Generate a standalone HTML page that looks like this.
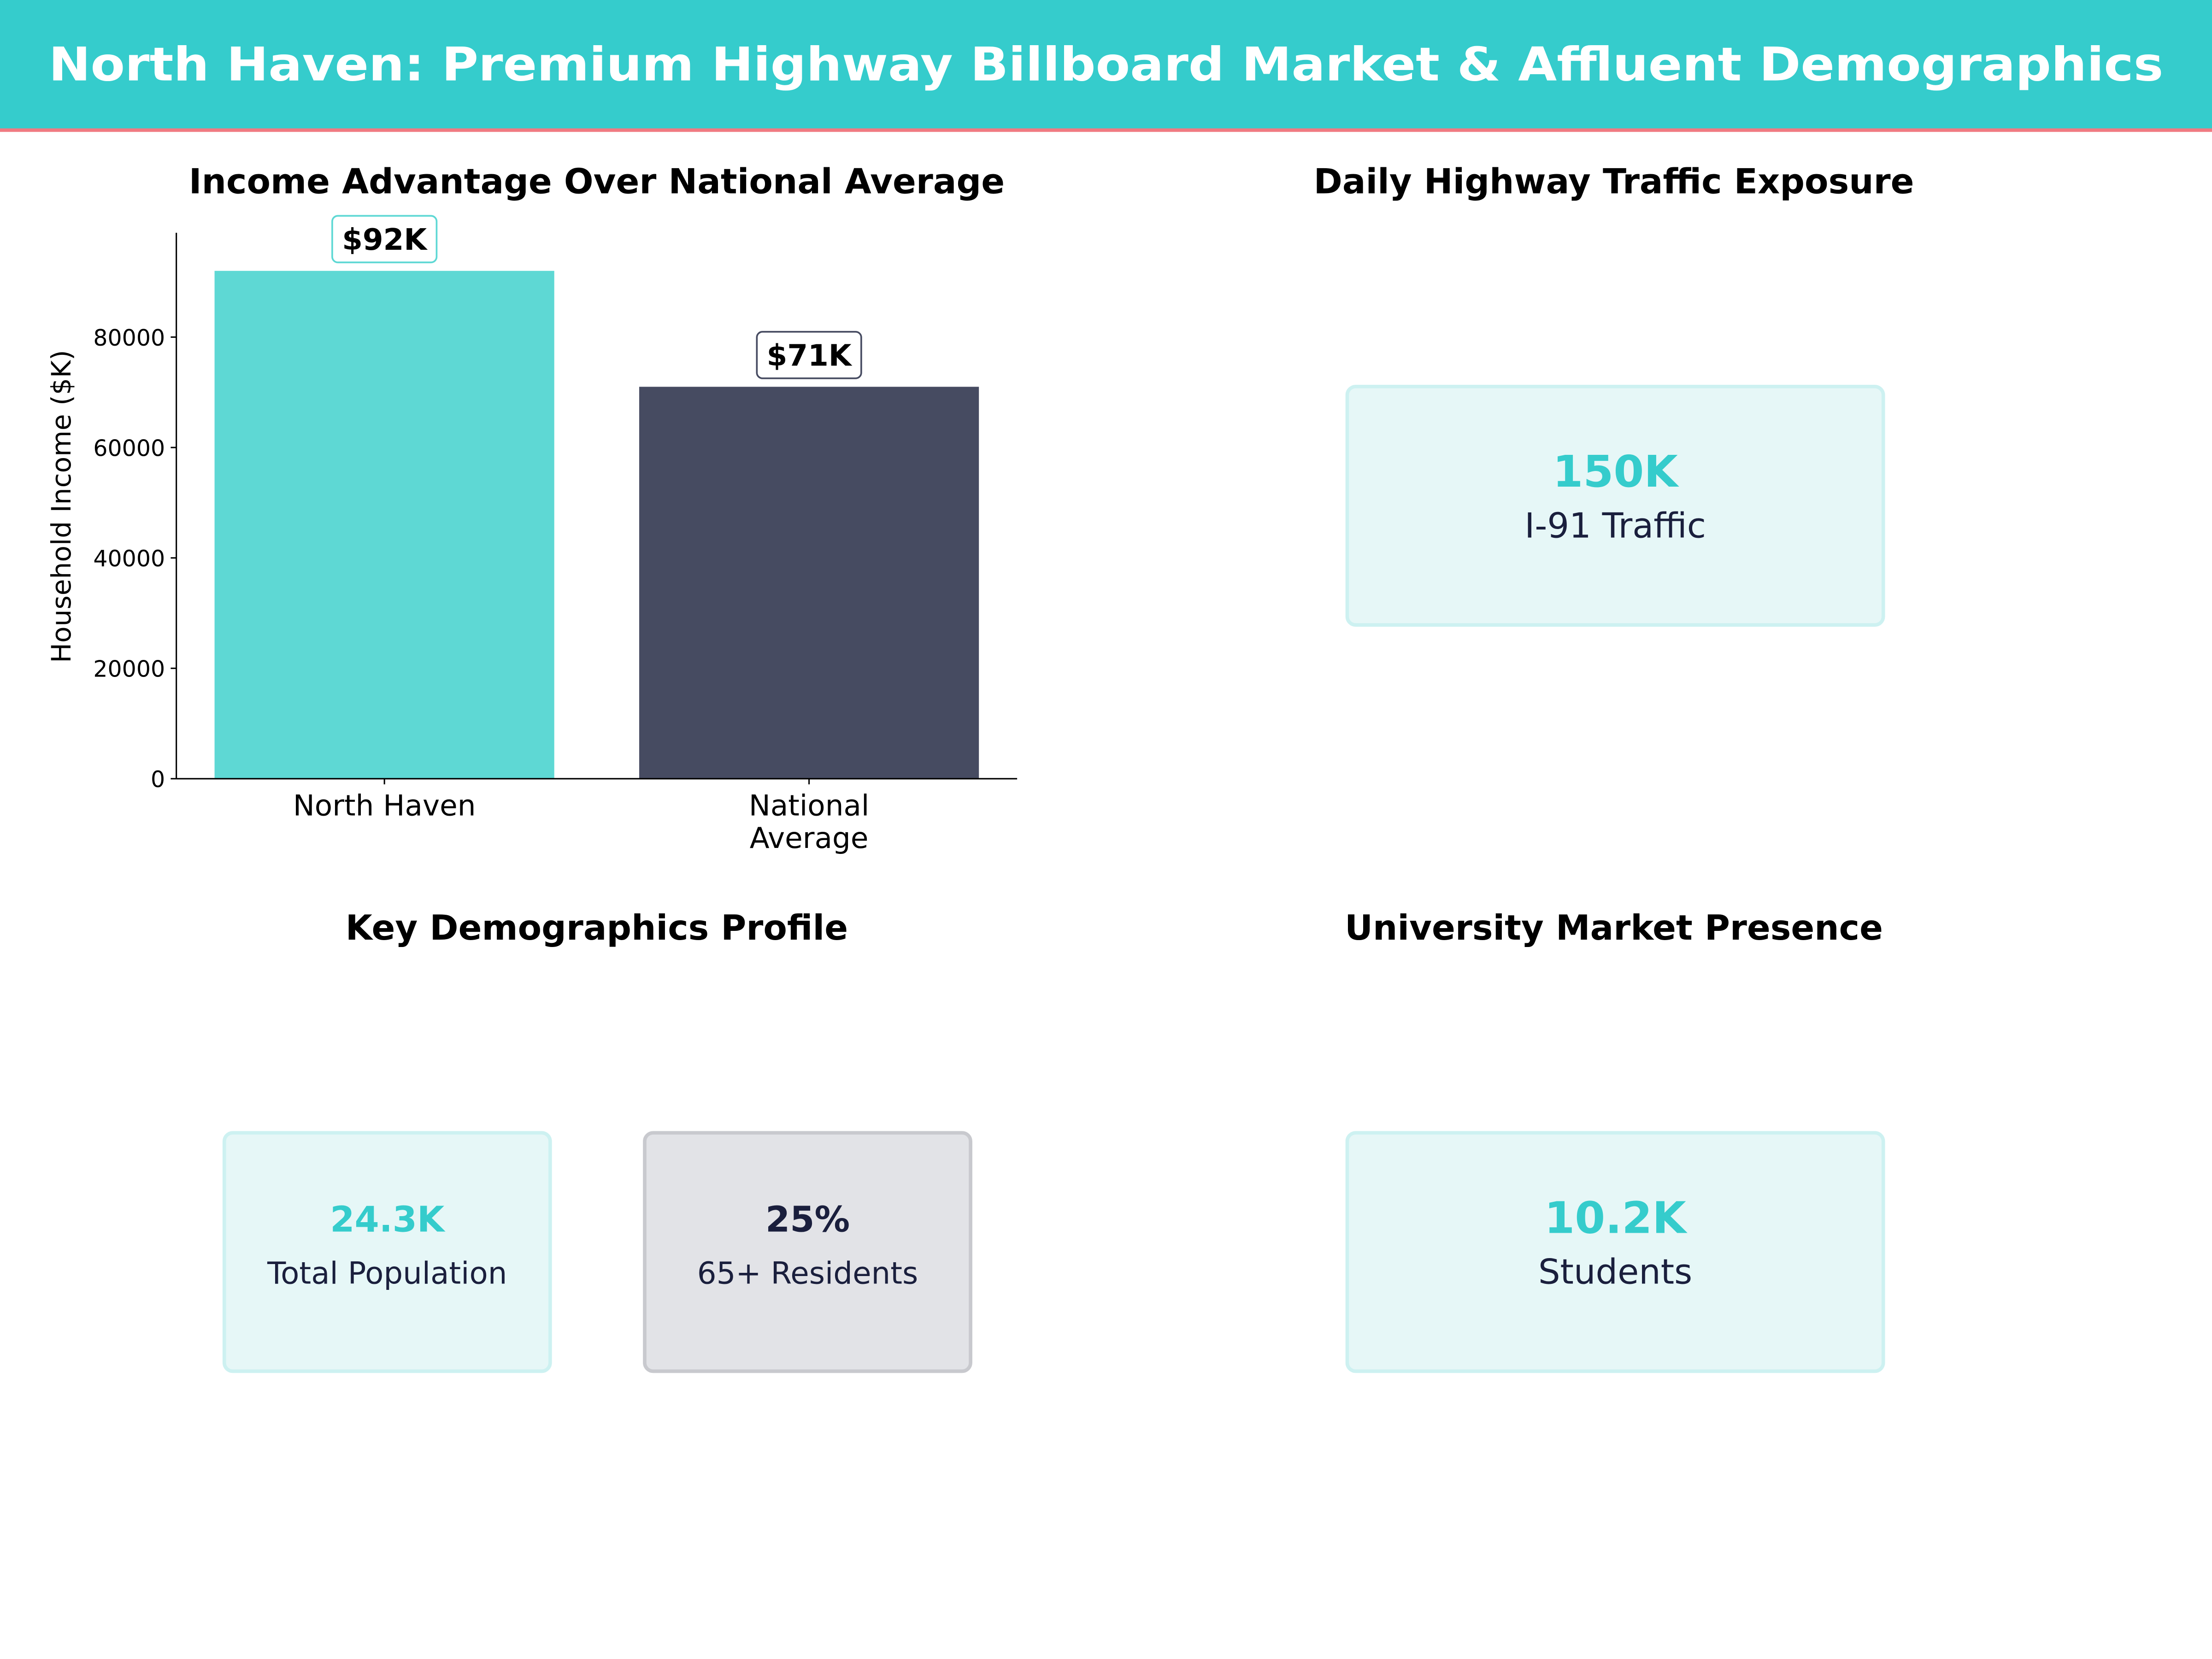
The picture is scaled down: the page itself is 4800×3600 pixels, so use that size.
<!DOCTYPE html>
<html><head><meta charset="utf-8"><style>
html,body{margin:0;padding:0;background:#fff}
svg{display:block;font-family:"DejaVu Sans","Liberation Sans",sans-serif}
</style></head><body>
<svg id="root" width="4800" height="3600" viewBox="0 0 1568 1176" xmlns="http://www.w3.org/2000/svg">
<rect x="0" y="0" width="1568" height="92" fill="#35cccc"/>
<rect x="0" y="91" width="1568" height="2.5" fill="#f07a82"/>
<text x="784" y="57" text-anchor="middle" font-size="33" font-weight="bold" fill="#fff" textLength="1499" lengthAdjust="spacingAndGlyphs">North Haven: Premium Highway Billboard Market &amp; Affluent Demographics</text>

<text x="423" y="137" text-anchor="middle" font-size="24.5" font-weight="bold" fill="#000">Income Advantage Over National Average</text>
<g id="chart"></g>

<text x="1144" y="137" text-anchor="middle" font-size="24.5" font-weight="bold" fill="#000">Daily Highway Traffic Exposure</text>
<g>
<rect x="955" y="274" width="380" height="169" rx="6" fill="#e6f7f7" stroke="#cdf1f1" stroke-width="2.5"/>
<text x="1145" y="345" text-anchor="middle" font-size="31" font-weight="bold" fill="#35cccc">150K</text>
<text x="1145" y="381" text-anchor="middle" font-size="24.5" fill="#1a1f3d">I-91 Traffic</text>
</g>

<text x="423" y="666" text-anchor="middle" font-size="24.5" font-weight="bold" fill="#000">Key Demographics Profile</text>
<g>
<rect x="159" y="803" width="231" height="169" rx="6" fill="#e6f7f7" stroke="#cdf1f1" stroke-width="2.5"/>
<text x="274.5" y="873" text-anchor="middle" font-size="25" font-weight="bold" fill="#35cccc">24.3K</text>
<text x="274.5" y="910" text-anchor="middle" font-size="21.5" fill="#1a1f3d">Total Population</text>
</g>
<g>
<rect x="457" y="803" width="231" height="169" rx="6" fill="#e2e3e7" stroke="#c8c9ce" stroke-width="2.5"/>
<text x="572.5" y="873" text-anchor="middle" font-size="25" font-weight="bold" fill="#1a1f3d">25%</text>
<text x="572.5" y="910" text-anchor="middle" font-size="21.5" fill="#1a1f3d">65+ Residents</text>
</g>

<text x="1144" y="666" text-anchor="middle" font-size="24.5" font-weight="bold" fill="#000">University Market Presence</text>
<g>
<rect x="955" y="803" width="380" height="169" rx="6" fill="#e6f7f7" stroke="#cdf1f1" stroke-width="2.5"/>
<text x="1145" y="874" text-anchor="middle" font-size="31" font-weight="bold" fill="#35cccc">10.2K</text>
<text x="1145" y="910" text-anchor="middle" font-size="24.5" fill="#1a1f3d">Students</text>
</g>
</svg>
<script>
const categories = ["North Haven", "National\nAverage"];
const incomes = [92000, 71000];
const valueLabels = ["$92K", "$71K"];
const yTicks = [0, 20000, 40000, 60000, 80000];
const barColors = ["#5ed8d4", "#464b61"];
const labelBorders = ["#5ed8d4", "#464b61"];

const NS = "http://www.w3.org/2000/svg";
const g = document.getElementById('chart');
const L = 125, R = 721, T = 165, B = 552;
const yMax = Math.max(...incomes) * 1.075;
const xMin = -0.49, xMax = categories.length - 0.51;
const y = v => B - (v / yMax) * (B - T);
const x = i => L + (i - xMin) / (xMax - xMin) * (R - L);
const bw = 0.8 * (R - L) / (xMax - xMin);
function mk(tag, attrs) { const e = document.createElementNS(NS, tag); for (const k in attrs) e.setAttribute(k, attrs[k]); g.appendChild(e); return e; }

incomes.forEach((v, i) => {
  const r = mk('rect', { x: x(i) - bw / 2, y: y(v), width: bw, height: B - y(v), fill: barColors[i] });
  
  
  const bx = mk('rect', { x: x(i) - 37, y: y(v) - 39, width: 74, height: 33, rx: 4, fill: '#fff', stroke: labelBorders[i], 'stroke-width': 1.2 });
  
  
  const t = mk('text', { x: x(i), y: y(v) - 15, 'text-anchor': 'middle', 'font-size': 21, 'font-weight': 'bold', fill: '#000' });
  t.textContent = valueLabels[i];
  
  
  const tk = mk('line', { x1: x(i), x2: x(i), y1: B, y2: B + 4, stroke: '#000', 'stroke-width': 1 });
  
  
  categories[i].split('\n').forEach((ln, j) => {
    const xl = mk('text', { x: x(i), y: 578 + j * 23, 'text-anchor': 'middle', 'font-size': 20.5, fill: '#000' });
    xl.textContent = ln;
    
    
  });
});
yTicks.forEach(v => {
  const tk = mk('line', { x1: L - 4, x2: L, y1: y(v), y2: y(v), stroke: '#000', 'stroke-width': 1 });
  
  
  const t = mk('text', { x: L - 8, y: y(v) + 6, 'text-anchor': 'end', 'font-size': 16, fill: '#000' });
  t.textContent = String(v);
  
  
});
const ax = mk('line', { x1: L, x2: L, y1: T, y2: B, stroke: '#000', 'stroke-width': 1 });


const axx = mk('line', { x1: L, x2: R, y1: B, y2: B, stroke: '#000', 'stroke-width': 1 });


const yl = mk('text', { x: 0, y: 0, transform: 'translate(50,359) rotate(-90)', 'text-anchor': 'middle', 'font-size': 19, fill: '#000' });
yl.textContent = 'Household Income ($K)';


</script>
</body></html>
